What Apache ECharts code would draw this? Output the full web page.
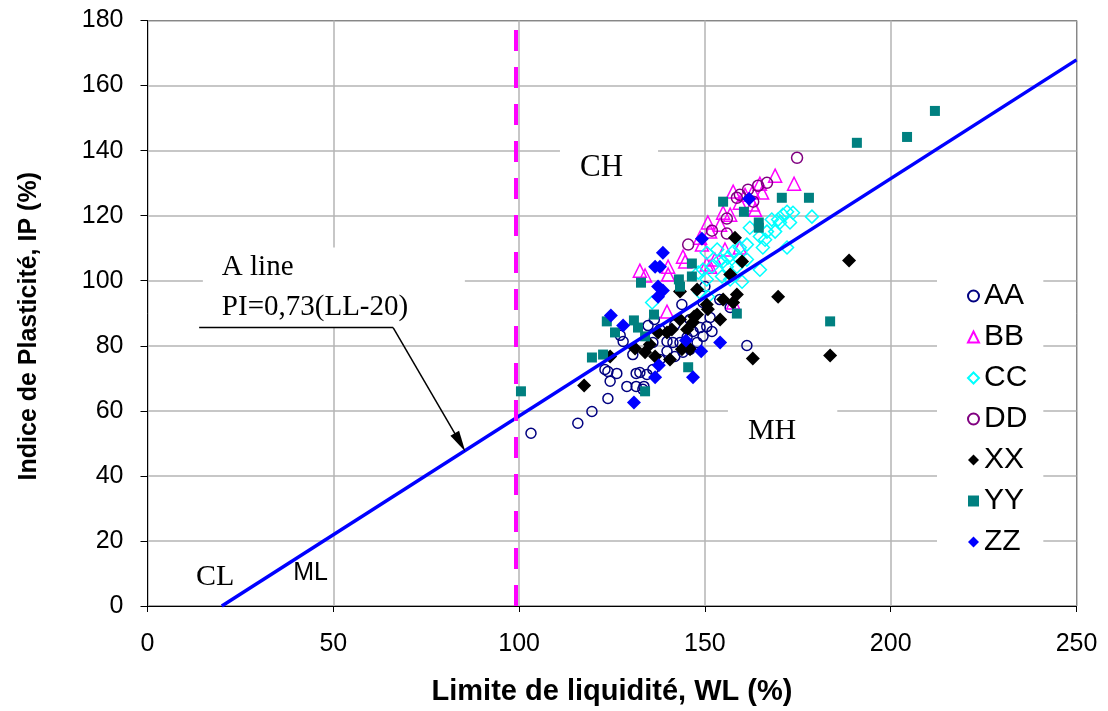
<!DOCTYPE html>
<html><head><meta charset="utf-8">
<script src="https://cdn.jsdelivr.net/npm/echarts@6/dist/echarts.min.js"></script>
<style>html,body{margin:0;padding:0;background:#fff}#c{width:1108px;height:711px}</style>
</head><body><div id="c"></div>
<script>
// ---- data (Limite de liquidité WL, Indice de plasticité IP) ----
const seriesNames = ['AA','BB','CC','DD','XX','YY','ZZ'];
const AA = [[103.2,53.1],[115.8,56.2],[119.6,59.8],[123.9,63.8],[124.5,69.1],[123.1,72.7],[123.9,72.1],[126.3,71.5],[129.0,67.5],[131.5,67.5],[133.6,67.5],[127.2,83.2],[128.0,81.3],[130.6,77.3],[131.5,71.5],[134.7,86.2],[136.0,81.0],[139.8,81.3],[141.4,81.0],[143.3,81.0],[145.2,82.6],[146.8,84.4],[148.7,85.6],[150.5,85.9],[151.9,84.4],[149.5,82.9],[147.9,81.0],[146.0,78.9],[144.1,78.0],[141.9,76.7],[139.8,78.3],[137.9,75.8],[136.0,72.7],[134.4,71.2],[132.5,71.8],[143.8,92.7],[150.0,98.2],[149.5,93.3],[151.4,88.7],[156.8,91.8],[161.3,80.1],[133.3,66.6],[136.4,88.1],[137.9,85.0],[141.9,86.5],[146.0,88.1],[154.0,94.2]];
const BB = [[168.9,132.3],[174.0,129.8],[164.8,129.8],[165.4,127.1],[162.9,127.4],[157.6,127.4],[159.4,124.0],[162.9,123.4],[163.5,121.8],[154.9,120.9],[154.1,117.2],[150.8,117.9],[151.4,115.1],[148.7,113.2],[149.2,111.1],[144.1,107.4],[140.1,104.3],[140.1,101.9],[151.4,104.3],[152.7,106.5],[159.4,110.2],[155.4,109.6],[144.7,105.9],[150.5,105.0],[139.8,90.5],[157.6,93.3],[132.5,103.1],[133.9,101.6],[156.8,120.3],[160.8,126.4]];
const CC = [[162.1,116.3],[164.8,113.6],[166.2,112.6],[168.0,118.8],[169.7,118.8],[171.0,120.3],[172.1,121.2],[173.7,120.9],[172.9,117.9],[170.2,117.9],[166.7,115.1],[168.9,115.1],[165.6,110.2],[172.1,110.2],[164.8,103.4],[161.3,111.1],[159.4,110.2],[157.6,109.0],[156.2,107.1],[154.9,105.9],[153.3,109.6],[154.1,106.5],[150.5,108.6],[151.9,104.3],[155.9,104.3],[149.5,103.4],[148.2,102.5],[159.4,106.5],[161.3,106.5],[158.6,104.3],[154.6,101.3],[150.5,100.4],[148.7,96.4],[178.8,119.7],[160.0,99.7],[135.8,93.3],[150.8,95.1],[156.8,100.4]];
const DD = [[174.8,137.8],[166.7,130.1],[161.6,128.0],[159.4,126.4],[158.6,125.5],[155.9,119.1],[151.9,115.4],[155.9,114.5],[145.5,111.1],[163.0,124.3],[164.3,129.2]];
const XX = [[117.5,67.8],[188.8,106.2],[183.7,77.0],[169.7,95.1],[162.9,76.1],[124.5,76.7],[131.2,79.2],[158.6,95.8],[157.6,93.3],[154.9,94.2],[154.1,88.1],[150.8,91.2],[150.5,92.7],[147.9,89.6],[146.8,87.2],[145.2,85.0],[143.3,88.1],[141.1,85.0],[139.8,84.1],[137.4,84.1],[133.9,78.0],[136.6,76.7],[140.6,75.8],[143.8,78.9],[146.0,78.9],[158.1,113.2],[160.0,105.9],[156.8,101.9],[147.9,97.3],[143.3,96.7],[135.2,80.4],[147.1,89.0]];
const YY = [[211.9,152.2],[204.4,144.2],[190.9,142.4],[178.0,125.5],[183.7,87.5],[100.5,66.0],[132.8,99.4],[123.6,87.5],[125.8,84.1],[130.9,87.8],[132.0,85.6],[133.9,82.9],[122.6,77.3],[119.6,76.4],[133.9,66.0],[154.9,124.3],[160.5,121.2],[170.7,125.5],[164.5,117.9],[164.5,116.3],[146.5,105.3],[143.0,100.4],[146.5,101.3],[143.3,98.2],[136.3,89.6],[158.6,89.9],[145.5,73.4]];
const ZZ = [[138.7,108.6],[136.6,104.3],[137.9,104.3],[137.4,98.2],[138.7,97.0],[137.4,95.1],[161.9,125.2],[149.2,112.9],[124.7,89.3],[128.0,86.2],[130.9,62.6],[154.1,81.0],[149.0,78.3],[144.9,81.6],[137.6,74.0],[136.6,70.3],[146.8,70.3]];
// A line PI = 0,73(LL-20): end points
const aLine = [[20,0],[250,167.9]];
const wlBoundary = 99;            // vertical dashed line (LL = 100)
const calloutPath = [[13.9,85.6],[66.1,85.6],[84.1,50.3]];
const annotations = [
  {text:'CH', pos:[111.0,134.7]},
  {text:'MH', pos:[156.2,53.7]},
  {text:'CL', pos:[18.2,8.9]},
  {text:'ML', pos:[43.9,10.1]},
  {text:'A line\nPI=0,73(LL-20)', pos:[14.9,97.9]}
];
const xAxisName = 'Limite de liquidité, WL (%)';
const yAxisName = 'Indice de Plasticité, IP (%)';

// ---- styles ----
const SANS = 'Liberation Sans, Arial, sans-serif';
const SERIF = 'Liberation Serif, Times New Roman, serif';
const markerStyle = {
  AA:{symbol:'circle', size:10, color:'rgba(255,255,255,0)', border:'#000080', bw:1.5},
  BB:{symbol:'triangle', size:13, color:'rgba(255,255,255,0)', border:'#ff00ff', bw:1.5},
  CC:{symbol:'diamond', size:13, color:'rgba(255,255,255,0)', border:'#00ffff', bw:1.5},
  DD:{symbol:'circle', size:11, color:'rgba(255,255,255,0)', border:'#800080', bw:1.5},
  XX:{symbol:'diamond', size:14, color:'#000000', border:'#000000', bw:0},
  YY:{symbol:'rect', size:10, color:'#008080', border:'#008080', bw:0},
  ZZ:{symbol:'diamond', size:14, color:'#0000ff', border:'#0000ff', bw:0}
};
const dataByName = {AA, BB, CC, DD, XX, YY, ZZ};

const chart = echarts.init(document.getElementById('c'), null, {renderer:'canvas'});

const scatterSeries = seriesNames.map(n => {
  const s = markerStyle[n];
  return {
    name: n, type:'scatter', data: dataByName[n], symbol: s.symbol, symbolSize: s.size,
    itemStyle:{color:s.color, borderColor:s.border, borderWidth:s.bw, opacity:1},
    emphasis:{disabled:true}, z:3
  };
});

function annLabel(a){
  const base = {show:true, position:'inside', color:'#000', fontFamily:SERIF, fontSize:30, formatter:a.text};
  if (a.text === 'CH') return Object.assign(base, {fontSize:31, align:'left', backgroundColor:'#fff', padding:[8,35,6,20]});
  if (a.text === 'MH') return Object.assign(base, {align:'left', backgroundColor:'#fff', padding:[10,41,4,20]});
  if (a.text === 'ML') return Object.assign(base, {fontFamily:SANS, fontSize:25});
  if (a.text === 'CL') return base;
  return Object.assign(base, {fontSize:29, lineHeight:40, align:'left', verticalAlign:'middle',
    width:205, backgroundColor:'#fff', padding:[0,38,0,19]});
}

const annSeries = {
  name:'annot', type:'scatter', symbolSize:1, z:2, silent:true,
  itemStyle:{color:'rgba(255,255,255,0)', opacity:1},
  data: annotations.map(a => ({value:a.pos, label:annLabel(a)}))
};

const option = {
  animation:false,
  backgroundColor:'#fff',
  grid:{left:147.5, right:31.5, top:20.5, bottom:104, show:true, borderColor:'#000', borderWidth:1},
  xAxis:{
    type:'value', min:0, max:250, interval:50,
    name:xAxisName, nameLocation:'middle', nameGap:71,
    nameTextStyle:{fontFamily:SANS, fontWeight:'bold', fontSize:29, color:'#000'},
    axisLine:{lineStyle:{color:'#000', width:1}},
    axisTick:{show:true, length:6, lineStyle:{color:'#000'}},
    axisLabel:{fontFamily:SANS, fontSize:25, color:'#000', margin:26},
    splitLine:{show:true, lineStyle:{color:'#b4b4b4', width:1.5}}
  },
  yAxis:{
    type:'value', min:0, max:180, interval:20,
    name:yAxisName, nameLocation:'middle', nameGap:106, nameRotate:90,
    nameTextStyle:{fontFamily:SANS, fontWeight:'bold', fontSize:25, color:'#000', padding:[0,26,0,0]},
    axisLine:{show:true, lineStyle:{color:'#000', width:1}},
    axisTick:{show:true, length:7, lineStyle:{color:'#000'}},
    axisLabel:{fontFamily:SANS, fontSize:25, color:'#000', margin:24},
    splitLine:{show:true, lineStyle:{color:'#b4b4b4', width:1.5}}
  },
  legend:{
    data:seriesNames, orient:'vertical', left:937, top:267,
    padding:[14,16,14,30], itemGap:11, itemWidth:11, itemHeight:11, itemTextGap:25,
    backgroundColor:'#fff',
    textStyle:{fontFamily:SANS, fontSize:30, color:'#000'}
  },
  series:[
    annSeries,
    ...scatterSeries,
    {
      name:'A line', type:'line', data:aLine, symbol:'none', z:4,
      lineStyle:{color:'#0000ff', width:3.5}, emphasis:{disabled:true}, silent:true
    },
    {
      name:'callout', type:'line', data:calloutPath.slice(0,2), symbol:'none', z:4,
      lineStyle:{color:'#000', width:1.5}, silent:true,
      markLine:{
        silent:true, symbol:['none','triangle'], symbolSize:[10,21], label:{show:false},
        lineStyle:{color:'#000', width:1.5, type:'solid'},
        itemStyle:{color:'#000'},
        data:[[{coord:calloutPath[1]},{coord:calloutPath[2]}]]
      }
    },
    {
      name:'boundary', type:'line', data:[], z:4, silent:true,
      markLine:{
        silent:true, symbol:'none', label:{show:false},
        lineStyle:{color:'#ff00ff', width:4, type:[21,16]},
        data:[{xAxis:wlBoundary}]
      }
    }
  ]
};
chart.setOption(option);
</script></body></html>
